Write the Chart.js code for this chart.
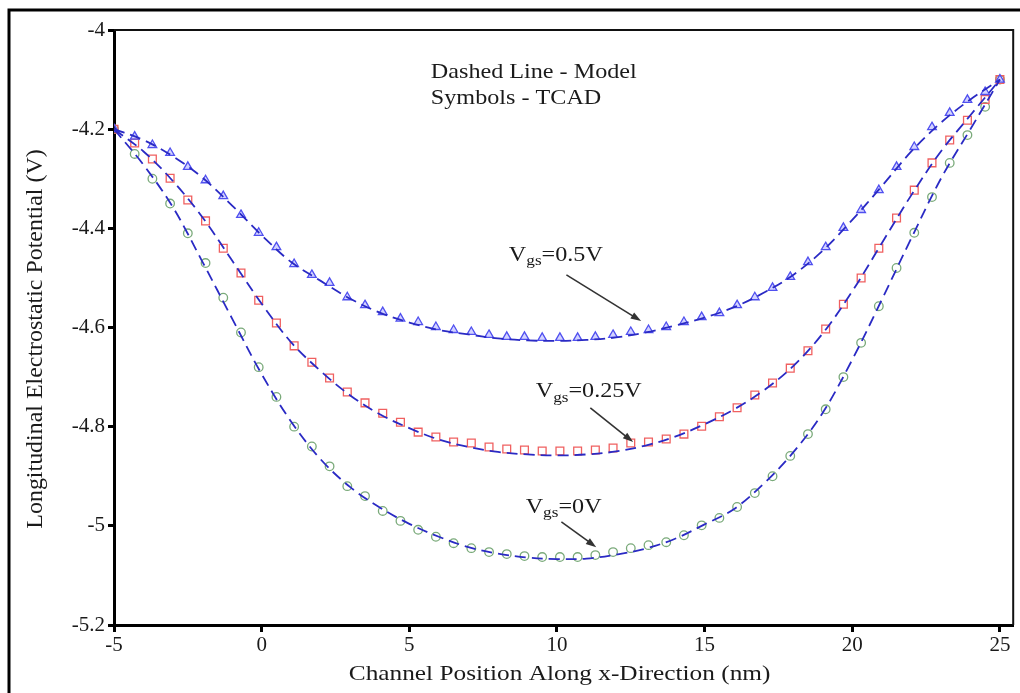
<!DOCTYPE html>
<html>
<head>
<meta charset="utf-8">
<script src="https://cdn.jsdelivr.net/npm/chart.js@4.4.1/dist/chart.umd.min.js"></script>
<style>
  html, body { margin: 0; padding: 0; background: #fff; }
  #wrap { position: relative; width: 1020px; height: 693px; }
</style>
</head>
<body>
<div id="wrap"><canvas id="chart" width="1020" height="693"></canvas></div>
<script>
// TCAD symbols (x in nm)
const xTcad = [-5, -4.3, -3.7, -3.1, -2.5, -1.9, -1.3, -0.7, -0.1, 0.5, 1.1, 1.7, 2.3, 2.9, 3.5, 4.1, 4.7,
  5.3, 5.9, 6.5, 7.1, 7.7, 8.3, 8.9, 9.5, 10.1, 10.7, 11.3, 11.9, 12.5, 13.1, 13.7, 14.3, 14.9, 15.5, 16.1,
  16.7, 17.3, 17.9, 18.5, 19.1, 19.7, 20.3, 20.9, 21.5, 22.1, 22.7, 23.3, 23.9, 24.5, 25];
const tcad05 = [-4.200, -4.215, -4.232, -4.248, -4.276, -4.303, -4.335, -4.373, -4.409, -4.438, -4.472, -4.494,
  -4.510, -4.539, -4.555, -4.569, -4.582, -4.589, -4.599, -4.605, -4.609, -4.615, -4.619, -4.619, -4.621, -4.621,
  -4.621, -4.619, -4.615, -4.609, -4.605, -4.599, -4.589, -4.579, -4.571, -4.555, -4.539, -4.520, -4.498, -4.468,
  -4.438, -4.399, -4.363, -4.323, -4.276, -4.236, -4.196, -4.167, -4.141, -4.125, -4.100];
const tcad025 = [-4.200, -4.228, -4.260, -4.299, -4.343, -4.385, -4.440, -4.490, -4.545, -4.591, -4.637, -4.670,
  -4.702, -4.730, -4.752, -4.773, -4.791, -4.811, -4.821, -4.831, -4.833, -4.841, -4.845, -4.847, -4.849, -4.849,
  -4.849, -4.847, -4.843, -4.833, -4.831, -4.825, -4.815, -4.799, -4.780, -4.762, -4.736, -4.712, -4.682, -4.647,
  -4.603, -4.553, -4.500, -4.440, -4.379, -4.323, -4.268, -4.222, -4.182, -4.140, -4.100];
const tcad0 = [-4.200, -4.250, -4.300, -4.350, -4.410, -4.470, -4.540, -4.610, -4.680, -4.740, -4.800, -4.840,
  -4.880, -4.920, -4.940, -4.970, -4.990, -5.008, -5.022, -5.035, -5.045, -5.053, -5.057, -5.061, -5.063, -5.063,
  -5.063, -5.059, -5.053, -5.045, -5.039, -5.033, -5.019, -4.999, -4.984, -4.962, -4.934, -4.900, -4.859, -4.815,
  -4.765, -4.700, -4.631, -4.557, -4.480, -4.409, -4.337, -4.268, -4.212, -4.155, -4.100];

// Model (dashed lines)
const xModel = [-5, -4, -3, -2, -1, 0, 1, 2, 3, 4, 5, 6, 7, 8, 9, 10, 11, 12, 13, 14, 15, 16, 17, 18, 19, 20,
  21, 22, 23, 24, 25];
const model05 = [-4.200, -4.222, -4.255, -4.298, -4.354, -4.414, -4.468, -4.506, -4.542, -4.570, -4.590, -4.605,
  -4.614, -4.622, -4.626, -4.627, -4.625, -4.620, -4.610, -4.596, -4.580, -4.559, -4.530, -4.494, -4.445, -4.383,
  -4.315, -4.245, -4.187, -4.140, -4.100];
const model025 = [-4.200, -4.245, -4.305, -4.378, -4.465, -4.552, -4.630, -4.688, -4.737, -4.775, -4.803, -4.826,
  -4.841, -4.851, -4.856, -4.858, -4.856, -4.850, -4.838, -4.820, -4.795, -4.765, -4.727, -4.678, -4.612, -4.527,
  -4.430, -4.333, -4.245, -4.172, -4.100];
const model0 = [-4.200, -4.272, -4.358, -4.468, -4.582, -4.694, -4.790, -4.866, -4.922, -4.963, -4.996, -5.022,
  -5.043, -5.056, -5.064, -5.067, -5.066, -5.058, -5.046, -5.026, -4.997, -4.966, -4.915, -4.852, -4.772, -4.665,
  -4.544, -4.420, -4.300, -4.200, -4.100];

const xTicks = [-5, 0, 5, 10, 15, 20, 25];
const yTicks = [-4, -4.2, -4.4, -4.6, -4.8, -5, -5.2];

const SERIF = "'Liberation Serif', 'Times New Roman', serif";
const TEXT = "#1a1a1a";
const MODEL_BLUE = "#2a2ac4";

function pts(xs, ys) {
  return xs.map((x, i) => ({ x: x, y: ys[i] }));
}

function modelSet(ys) {
  return {
    data: pts(xModel, ys),
    showLine: true,
    borderColor: MODEL_BLUE,
    borderWidth: 1.8,
    borderDash: [11, 6],
    tension: 0.35,
    pointRadius: 0,
    order: 1,
  };
}

function tcadSet(ys, style, color, fill, r) {
  return {
    data: pts(xTcad, ys),
    showLine: false,
    pointStyle: style,
    pointRadius: r,
    pointBorderWidth: 1.3,
    pointBorderColor: color,
    pointBackgroundColor: fill,
    order: 2,
  };
}

// labels & arrows, in data units
const notes = [
  { parts: [["Dashed Line - Model", 0]], x: 5.73, y: -4.085 },
  { parts: [["Symbols - TCAD", 0]], x: 5.73, y: -4.139 },
  { parts: [["V", 0], ["gs", 1], ["=0.5V", 0]], x: 8.37, y: -4.454 },
  { parts: [["V", 0], ["gs", 1], ["=0.25V", 0]], x: 9.28, y: -4.730 },
  { parts: [["V", 0], ["gs", 1], ["=0V", 0]], x: 8.94, y: -4.962 },
];
const arrows = [
  [10.32, -4.494, 12.85, -4.587],
  [11.13, -4.762, 12.58, -4.831],
  [10.15, -4.992, 11.33, -5.043],
];

const decor = {
  id: "decor",
  beforeDraw(chart) {
    const ctx = chart.ctx;
    ctx.save();
    ctx.fillStyle = "#fff";
    ctx.fillRect(0, 0, chart.width, chart.height);
    // outer frame
    ctx.strokeStyle = "#000";
    ctx.lineWidth = 3;
    ctx.beginPath();
    ctx.moveTo(9, 693);
    ctx.lineTo(9, 10);
    ctx.lineTo(1020, 10);
    ctx.stroke();
    ctx.restore();
  },
  afterDraw(chart) {
    const ctx = chart.ctx;
    const a = chart.chartArea;
    const xs = chart.scales.x, ys = chart.scales.y;
    ctx.save();
    // top / right of plot box
    ctx.strokeStyle = "#111";
    ctx.lineWidth = 2;
    ctx.beginPath();
    ctx.moveTo(a.left, a.top);
    ctx.lineTo(a.right, a.top);
    ctx.lineTo(a.right, a.bottom);
    ctx.stroke();

    // axis titles
    ctx.fillStyle = TEXT;
    ctx.textBaseline = "middle";
    ctx.textAlign = "center";
    ctx.save();
    ctx.translate((a.left + a.right) / 2 - 4, 674);
    ctx.scale(1.15, 1);
    ctx.font = "22px " + SERIF;
    ctx.fillText("Channel Position Along x-Direction (nm)", 0, 0);
    ctx.restore();
    ctx.save();
    ctx.translate(36, 339);
    ctx.rotate(-Math.PI / 2);
    ctx.scale(1.04, 1);
    ctx.font = "23px " + SERIF;
    ctx.fillText("Longitudinal Electrostatic Potential (V)", 0, 0);
    ctx.restore();

    // notes
    ctx.textAlign = "left";
    notes.forEach((n) => {
      ctx.save();
      ctx.translate(xs.getPixelForValue(n.x), ys.getPixelForValue(n.y));
      ctx.scale(1.15, 1);
      let cx = 0;
      n.parts.forEach(([t, sub]) => {
        ctx.font = (sub ? "15px " : "21px ") + SERIF;
        ctx.fillText(t, cx, sub ? 6 : 0);
        cx += ctx.measureText(t).width;
      });
      ctx.restore();
    });

    ctx.strokeStyle = "#333";
    ctx.fillStyle = "#333";
    ctx.lineWidth = 1.6;
    arrows.forEach(([x1, y1, x2, y2]) => {
      const px1 = xs.getPixelForValue(x1), py1 = ys.getPixelForValue(y1);
      const px2 = xs.getPixelForValue(x2), py2 = ys.getPixelForValue(y2);
      const ang = Math.atan2(py2 - py1, px2 - px1);
      ctx.beginPath();
      ctx.moveTo(px1, py1);
      ctx.lineTo(px2 - 8 * Math.cos(ang), py2 - 8 * Math.sin(ang));
      ctx.stroke();
      ctx.beginPath();
      ctx.moveTo(px2, py2);
      ctx.lineTo(px2 - 11 * Math.cos(ang - 0.33), py2 - 11 * Math.sin(ang - 0.33));
      ctx.lineTo(px2 - 11 * Math.cos(ang + 0.33), py2 - 11 * Math.sin(ang + 0.33));
      ctx.closePath();
      ctx.fill();
    });
    ctx.restore();
  },
};

new Chart(document.getElementById("chart"), {
  type: "scatter",
  data: {
    datasets: [
      modelSet(model05),
      modelSet(model025),
      modelSet(model0),
      tcadSet(tcad05, "triangle", "#5050f0", "rgba(130,130,255,0.35)", 5),
      tcadSet(tcad025, "rect", "#f06060", "rgba(255,255,255,0)", 5.5),
      tcadSet(tcad0, "circle", "#7aaa7a", "rgba(255,255,255,0)", 4.3),
    ],
  },
  options: {
    responsive: false,
    animation: false,
    layout: { padding: { top: 30, right: 4, left: 0, bottom: 0 } },
    plugins: { legend: { display: false }, tooltip: { enabled: false } },
    scales: {
      x: {
        type: "linear",
        min: -5,
        max: 25.45,
        afterBuildTicks: (s) => { s.ticks = xTicks.map((v) => ({ value: v })); },
        afterFit: (s) => { s.height = 68; },
        border: { color: "#000", width: 3 },
        grid: { drawOnChartArea: false, drawTicks: true, tickLength: 7, tickWidth: 3, tickColor: "#000" },
        ticks: { color: TEXT, padding: 1, maxRotation: 0, font: { family: SERIF, size: 21 } },
      },
      y: {
        type: "linear",
        min: -5.2,
        max: -4,
        afterBuildTicks: (s) => { s.ticks = yTicks.map((v) => ({ value: v })); },
        afterFit: (s) => { s.width = 114; },
        border: { color: "#000", width: 3 },
        grid: { drawOnChartArea: false, drawTicks: true, tickLength: 6, tickWidth: 3, tickColor: "#000" },
        ticks: { color: TEXT, padding: 3, callback: (v) => String(v), font: { family: SERIF, size: 21 } },
      },
    },
  },
  plugins: [decor],
});
</script>
</body>
</html>
